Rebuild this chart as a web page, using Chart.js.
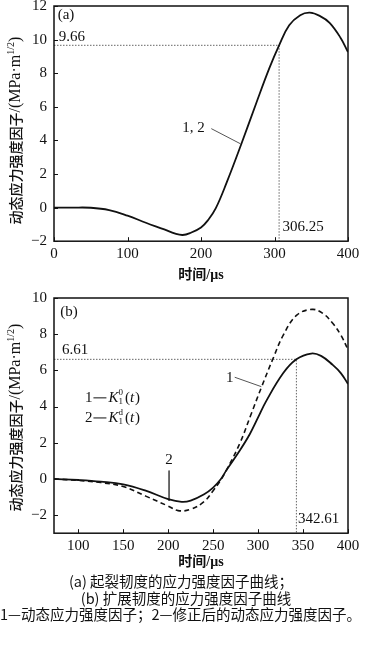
<!DOCTYPE html>
<html>
<head>
<meta charset="utf-8">
<script src="https://cdn.jsdelivr.net/npm/chart.js@4.4.0/dist/chart.umd.min.js"></script>
<style>
  body { margin: 0; background: #fff; width: 368px; height: 648px; overflow: hidden; position: relative; }
  canvas { position: absolute; left: 0; }
  #chartA { top: -10px; }
  #chartB { top: 282px; }
  .cap { position: absolute; text-align: center; font: 14.5px "Noto Sans CJK SC", sans-serif; color: #111; line-height: 16px; white-space: nowrap; }
</style>
</head>
<body>
<canvas id="chartA" width="368" height="294"></canvas>
<canvas id="chartB" width="368" height="289"></canvas>
<div class="cap" style="top:573px;left:0;width:362px">(a) 起裂韧度的应力强度因子曲线；</div>
<div class="cap" style="top:590px;left:0;width:372px">(b) 扩展韧度的应力强度因子曲线</div>
<div class="cap" style="top:606px;left:0;width:360px">1—动态应力强度因子；2—修正后的动态应力强度因子。</div>
<script>
// (a) crack initiation toughness, curves 1 and 2 coincide
const timeA = [0, 25, 50, 75, 100, 125, 150, 165, 175, 185, 200, 210, 220, 235, 255, 275, 293, 306.25, 320, 335, 348, 362, 375, 390, 400];
const kA = [0, 0, -0.01, -0.15, -0.48, -0.9, -1.3, -1.55, -1.63, -1.52, -1.18, -0.72, -0.05, 1.5, 3.8, 6.2, 8.3, 9.66, 10.85, 11.45, 11.6, 11.4, 11.0, 10.1, 9.26];
const markA = { t: 306.25, k: 9.66 };

// (b) propagation toughness
const timeB1 = [73, 100, 125, 150, 175, 200, 211, 225, 240, 250, 258, 265, 280, 292, 304, 317, 328, 343, 360, 372, 383, 392, 400];
const kB1 = [0, -0.08, -0.2, -0.42, -0.95, -1.5, -1.75, -1.68, -1.25, -0.65, -0.1, 0.5, 2.0, 3.55, 5.1, 6.7, 7.95, 9.05, 9.37, 9.15, 8.6, 7.95, 7.15];
const timeB2 = [73, 100, 125, 150, 175, 200, 215, 225, 240, 250, 258, 265, 280, 291, 300, 309, 328, 342.61, 359, 370, 383, 392, 400];
const kB2 = [0, -0.06, -0.15, -0.3, -0.65, -1.12, -1.27, -1.2, -0.85, -0.48, -0.05, 0.5, 1.6, 2.5, 3.4, 4.3, 5.85, 6.61, 6.93, 6.8, 6.3, 5.85, 5.25];
const markB = { t: 342.61, k: 6.61 };

// axis ticks
const xTicksA = [0, 100, 200, 300, 400];
const yTicksA = [-2, 0, 2, 4, 6, 8, 10, 12];
const xTicksB = [100, 150, 200, 250, 300, 350, 400];
const yTicksB = [-2, 0, 2, 4, 6, 8, 10];

// text notes, anchored in data units
const notesA = [
    { text: '(a)', x: 5, y: 11.45, align: 'left' },
    { text: '9.66', x: 6.4, y: 10.15, align: 'left' },
    { text: '306.25', x: 311, y: -1.15, align: 'left' },
    { text: '1, 2', x: 205, y: 4.72, align: 'right' }
];
const leaderA = [{ x: 214, y: 4.7 }, { x: 253.6, y: 3.8 }];
const notesB = [
    { text: '(b)', x: 80, y: 9.24, align: 'left' },
    { text: '6.61', x: 82, y: 7.13, align: 'left' },
    { text: '342.61', x: 344.5, y: -2.23, align: 'left' },
    { text: '1', x: 268.6, y: 5.58, align: 'center' },
    { text: '2', x: 200.8, y: 1.05, align: 'center' }
];
const leaderB1 = [{ x: 274, y: 5.62 }, { x: 303.6, y: 5.1 }];
const leaderB2 = [{ x: 201, y: 0.46 }, { x: 201, y: -1.22 }];
const legendB = [
    { num: '1', sup: '0', x: 107.4, y: 4.48 },
    { num: '2', sup: 'd', x: 107.4, y: 3.37 }
];

const serif = '"Liberation Serif", "Times New Roman", serif';
const cjk = '"Noto Sans CJK SC", sans-serif';
const ink = '#111';

function pts(xs, ys) {
    return xs.map((x, i) => ({ x: x, y: ys[i] }));
}

function drawYTitle(ctx, cx, cy) {
    const parts = [
        { t: '动态应力强度因子', f: '500 14px ' + cjk, dy: 0 },
        { t: '/(MPa·m', f: '16px ' + serif, dy: 0 },
        { t: '1/2', f: '10px ' + serif, dy: -5 },
        { t: ')', f: '16px ' + serif, dy: 0 }
    ];
    ctx.save();
    ctx.translate(cx, cy);
    ctx.rotate(-Math.PI / 2);
    ctx.textBaseline = 'middle';
    ctx.fillStyle = ink;
    let w = 0;
    parts.forEach(p => { ctx.font = p.f; p.w = ctx.measureText(p.t).width; w += p.w; });
    let x = -w / 2;
    parts.forEach(p => { ctx.font = p.f; ctx.fillText(p.t, x, p.dy); x += p.w; });
    ctx.restore();
}

// "1 — K_1^0(t)"
function drawK(ctx, px, py, num, sup) {
    ctx.save();
    ctx.textBaseline = 'middle';
    ctx.textAlign = 'left';
    ctx.fillStyle = ink;
    let x = px;
    ctx.font = '15px ' + serif;
    ctx.fillText(num, x, py);
    x += ctx.measureText(num).width + 1;
    ctx.strokeStyle = ink;
    ctx.lineWidth = 1;
    ctx.beginPath();
    ctx.moveTo(x, py);
    ctx.lineTo(x + 13, py);
    ctx.stroke();
    x += 15;
    ctx.font = 'italic 15px ' + serif;
    ctx.fillText('K', x, py);
    x += ctx.measureText('K').width;
    ctx.font = '9px ' + serif;
    ctx.fillText('1', x, py + 4);
    ctx.fillText(sup, x, py - 5);
    x += ctx.measureText('1').width + 2;
    ctx.font = '15px ' + serif;
    ctx.fillText('(', x, py);
    x += ctx.measureText('(').width;
    ctx.font = 'italic 15px ' + serif;
    ctx.fillText('t', x, py);
    x += ctx.measureText('t').width + 1;
    ctx.font = '15px ' + serif;
    ctx.fillText(')', x, py);
    ctx.restore();
}

const framePlugin = {
    id: 'frame',
    afterDatasetsDraw(chart, args, opts) {
        const { ctx, chartArea: a, scales: { x, y } } = chart;
        ctx.save();
        ctx.strokeStyle = ink;
        ctx.lineWidth = 1.5;
        ctx.strokeRect(a.left, a.top, a.right - a.left, a.bottom - a.top);
        // inward tick marks
        ctx.lineWidth = 1;
        ctx.beginPath();
        x.ticks.forEach(t => {
            const px = Math.round(x.getPixelForValue(t.value)) + 0.5;
            ctx.moveTo(px, a.bottom);
            ctx.lineTo(px, a.bottom - 4);
        });
        y.ticks.forEach(t => {
            const py = Math.round(y.getPixelForValue(t.value)) + 0.5;
            ctx.moveTo(a.left, py);
            ctx.lineTo(a.left + 4, py);
        });
        ctx.stroke();

        ctx.fillStyle = ink;
        ctx.font = '15px ' + serif;
        ctx.textBaseline = 'middle';
        (opts.notes || []).forEach(n => {
            ctx.textAlign = n.align;
            ctx.fillText(n.text, x.getPixelForValue(n.x), y.getPixelForValue(n.y));
        });
        ctx.restore();

        (opts.legend || []).forEach(l => drawK(ctx, x.getPixelForValue(l.x), y.getPixelForValue(l.y), l.num, l.sup));
        drawYTitle(ctx, a.left - 38, (a.top + a.bottom) / 2 + (opts.titleShift || 0));
    }
};

function dotted(data) {
    return { data: data, borderColor: '#666', borderWidth: 1, borderDash: [1.5, 1.5], pointRadius: 0, tension: 0, order: 5 };
}
function leader(data) {
    return { data: data, borderColor: '#555', borderWidth: 1, pointRadius: 0, tension: 0, order: 4 };
}

function axes(xmin, xmax, xt, ymin, ymax, yt, titleGap) {
    const fixTicks = list => scale => { scale.ticks = list.map(v => ({ value: v })); };
    return {
        x: {
            type: 'linear', min: xmin, max: xmax,
            afterBuildTicks: fixTicks(xt),
            grid: { display: false, drawTicks: false },
            border: { display: false },
            ticks: { autoSkip: false, maxRotation: 0, padding: 4, color: ink, font: { family: serif, size: 15 } },
            title: { display: true, text: '时间/μs', color: ink, padding: { top: titleGap, bottom: 0 },
                     font: { family: serif + ', ' + cjk, size: 14, weight: 'bold' } }
        },
        y: {
            type: 'linear', min: ymin, max: ymax,
            afterBuildTicks: fixTicks(yt),
            afterFit: scale => { scale.width = 54; },
            grid: { display: false, drawTicks: false },
            border: { display: false },
            ticks: { padding: 7, color: ink, font: { family: serif, size: 15 },
                     callback: v => String(v).replace('-', '\u2212') }
        }
    };
}

const common = {
    responsive: false,
    animation: false,
    events: [],
    elements: { line: { fill: false, tension: 0.4 } }
};

new Chart(document.getElementById('chartA'), {
    type: 'line',
    data: {
        datasets: [
            { data: pts(timeA, kA), borderColor: ink, borderWidth: 1.8, pointRadius: 0, order: 1 },
            dotted([{ x: 0, y: markA.k }, { x: markA.t, y: markA.k }, { x: markA.t, y: -2 }]),
            leader(leaderA)
        ]
    },
    options: Object.assign({}, common, {
        layout: { padding: { left: 0, right: 20, top: 15.7, bottom: 0 } },
        scales: axes(0, 400, xTicksA, -2, 12, yTicksA, 0),
        plugins: { legend: { display: false }, tooltip: { enabled: false }, frame: { notes: notesA, titleShift: 7 } }
    }),
    plugins: [framePlugin]
});

new Chart(document.getElementById('chartB'), {
    type: 'line',
    data: {
        datasets: [
            { data: pts(timeB1, kB1), borderColor: ink, borderWidth: 1.6, borderDash: [5, 3.5], pointRadius: 0, order: 2 },
            { data: pts(timeB2, kB2), borderColor: ink, borderWidth: 1.8, pointRadius: 0, order: 1 },
            dotted([{ x: 73, y: markB.k }, { x: markB.t, y: markB.k }, { x: markB.t, y: -3 }]),
            leader(leaderB1),
            leader(leaderB2)
        ]
    },
    options: Object.assign({}, common, {
        layout: { padding: { left: 0, right: 20, top: 15, bottom: 0 } },
        scales: axes(73, 400, xTicksB, -3, 10, yTicksB, -5),
        plugins: { legend: { display: false }, tooltip: { enabled: false }, frame: { notes: notesB, legend: legendB, titleShift: 2 } }
    }),
    plugins: [framePlugin]
});
</script>
</body>
</html>
